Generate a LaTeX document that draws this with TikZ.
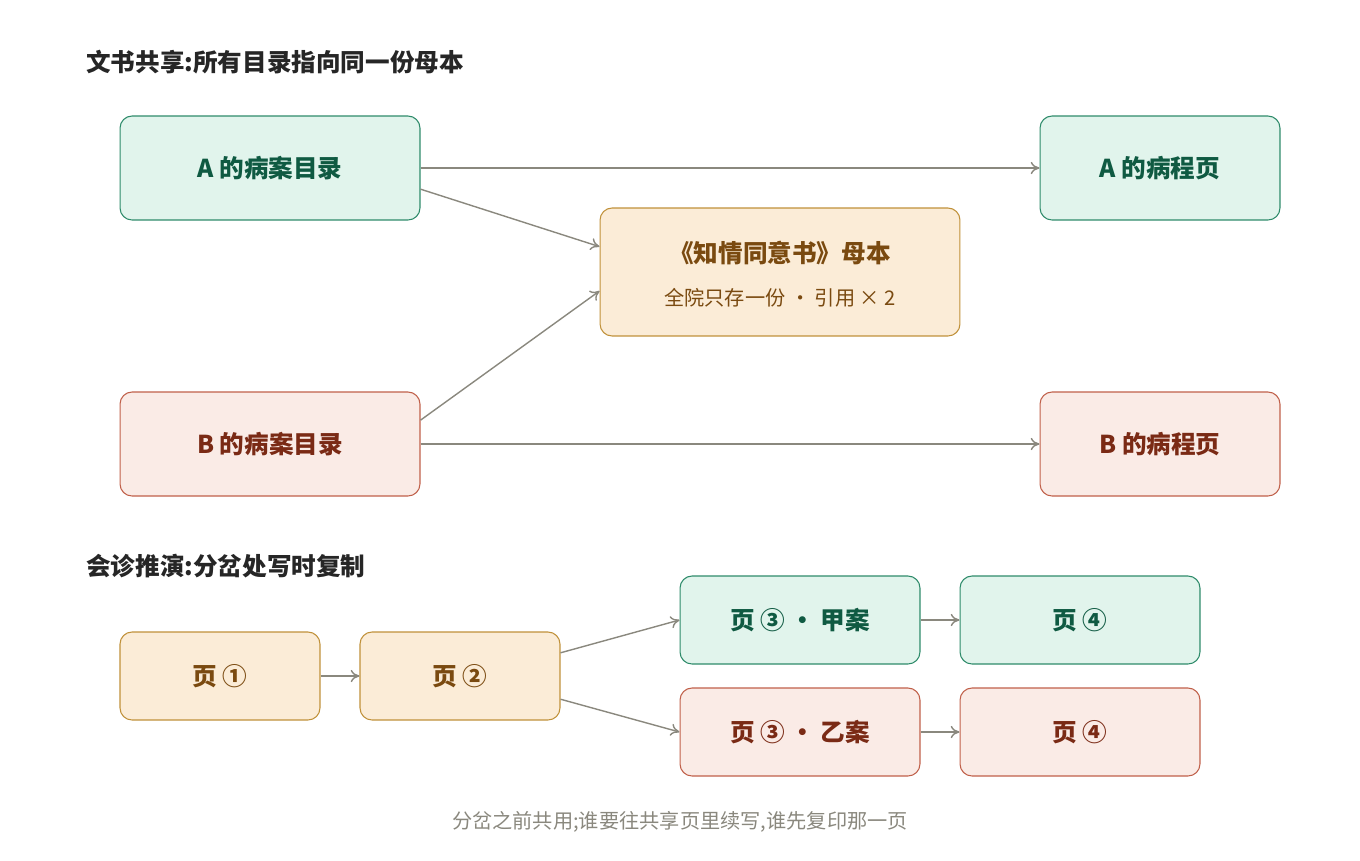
\documentclass[tikz,border=0pt]{standalone}
\usepackage{fontspec}
\setmainfont{Noto Sans CJK SC}
\usetikzlibrary{calc,arrows.meta}
\definecolor{gfill}{HTML}{E1F4EC}
\definecolor{gline}{HTML}{2E8B6A}
\definecolor{gtext}{HTML}{0F5A42}
\definecolor{ofill}{HTML}{FBECD7}
\definecolor{oline}{HTML}{C0913A}
\definecolor{otext}{HTML}{7A4A10}
\definecolor{rfill}{HTML}{FAEBE6}
\definecolor{rline}{HTML}{C0604A}
\definecolor{rtext}{HTML}{7A2A15}
\definecolor{arr}{HTML}{8A887E}
\tikzset{
  box/.style={draw, rounded corners=0.24cm, line width=0.6pt, font=\fontsize{14}{16}\selectfont\bfseries, align=center, inner sep=0pt},
  green/.style={box, fill=gfill, draw=gline, text=gtext},
  orange/.style={box, fill=ofill, draw=oline, text=otext},
  red/.style={box, fill=rfill, draw=rline, text=rtext},
  link/.style={draw=arr, line width=0.8pt, -{To[length=5pt,width=7pt]}},
  head/.style={anchor=west, font=\fontsize{14}{16}\selectfont\bfseries, text=black!85}
}
\begin{document}
\begin{tikzpicture}[x=0.02cm, y=-0.02cm]
            \useasboundingbox (0,0) rectangle (1360,860);

            \node[head] (t1) at (80,62) {文书共享:所有目录指向同一份母本};
            \node[head] (t2) at (80,566) {会诊推演:分岔处写时复制};

            \node[green, minimum width=6cm, minimum height=2.08cm] (adir) at (270,168) {A 的病案目录};
            \node[green, minimum width=4.8cm, minimum height=2.08cm] (apage) at (1160,168) {A 的病程页};
            \node[orange, minimum width=7.2cm, minimum height=2.56cm] (mom) at (780,272) {};
            \node[text=otext, font=\fontsize{14}{16}\selectfont\bfseries] (momt) at (780,253) {《知情同意书》母本};
            \node[text=otext, font=\fontsize{11.5}{14}\selectfont] (moms) at (780,298) {全院只存一份 · 引用 × 2};
            \node[red, minimum width=6cm, minimum height=2.08cm] (bdir) at (270,444) {B 的病案目录};
            \node[red, minimum width=4.8cm, minimum height=2.08cm] (bpage) at (1160,444) {B 的病程页};

            \draw[link] (adir) -- (apage);
            \draw[link] (bdir) -- (bpage);
            \draw[link] (adir.-8.3) -- (mom.172.5);
            \draw[link] (bdir.9.1) -- (mom.186.3);

            % fork part
            \node[orange, minimum width=4cm, minimum height=1.76cm] (p1) at (220,676) {页 ①};
            \node[orange, minimum width=4cm, minimum height=1.76cm] (p2) at (460,676) {页 ②};
            \node[green, minimum width=4.8cm, minimum height=1.76cm] (p3a) at (800,620) {页 ③ · 甲案};
            \node[green, minimum width=4.8cm, minimum height=1.76cm] (p4a) at (1080,620) {页 ④};
            \node[red, minimum width=4.8cm, minimum height=1.76cm] (p3b) at (800,732) {页 ③ · 乙案};
            \node[red, minimum width=4.8cm, minimum height=1.76cm] (p4b) at (1080,732) {页 ④};

            \draw[link] (p1) -- (p2);
            \draw[link] (p2.13.5) -- (p3a.west);
            \draw[link] (p2.-13.5) -- (p3b.west);
            \draw[link] (p3a) -- (p4a);
            \draw[link] (p3b) -- (p4b);

            \node[text=arr, font=\fontsize{11.5}{14}\selectfont] (foot) at (680,822) {分岔之前共用;谁要往共享页里续写,谁先复印那一页};
        \end{tikzpicture}
\end{document}
